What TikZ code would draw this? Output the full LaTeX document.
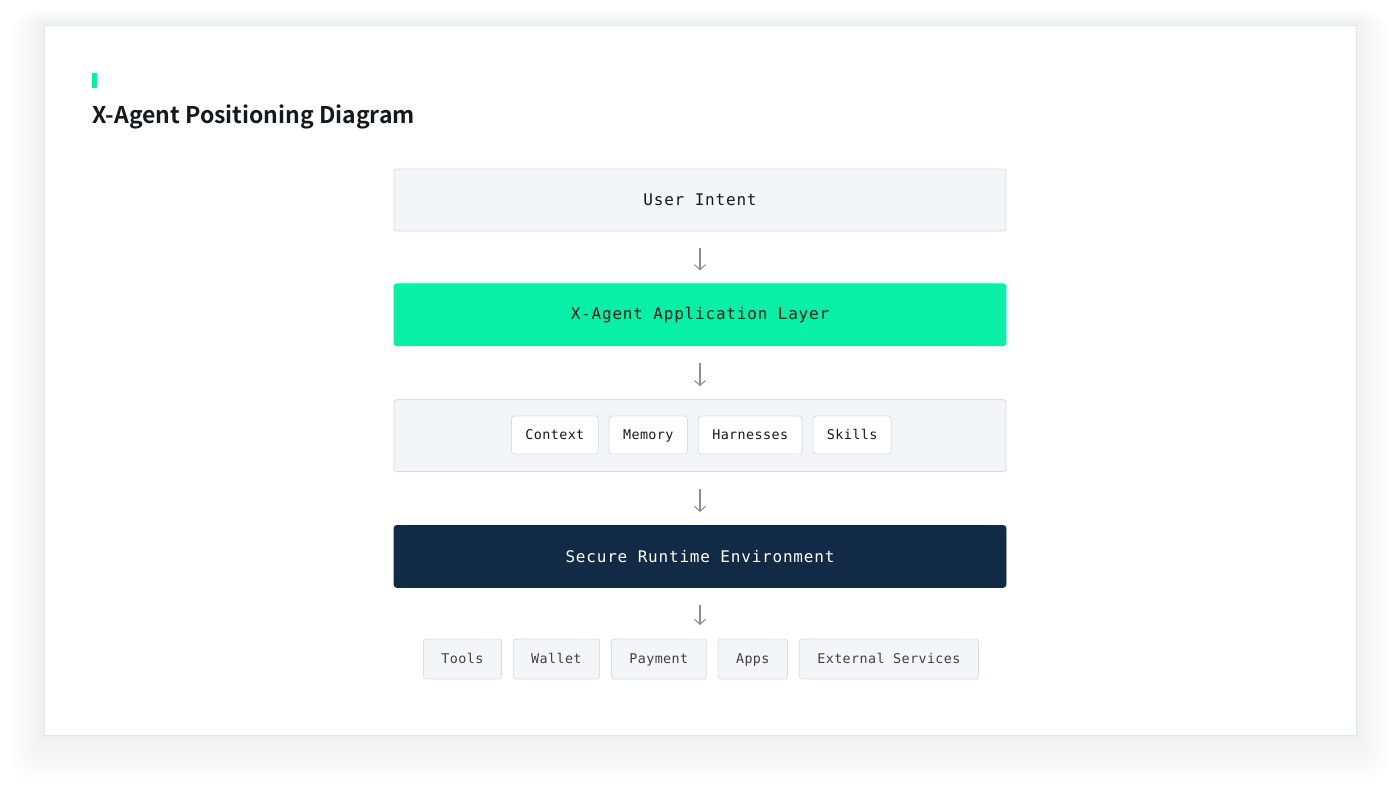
\documentclass[tikz,border=0pt]{standalone}
\usepackage{fontspec}
\usetikzlibrary{positioning,arrows.meta}
\newfontfamily\headfont{Noto Sans CJK SC}[BoldFont={* Bold}]
\newfontfamily\codefont{DejaVu Sans Mono}[LetterSpace=5]
\newfontfamily\chipfont{DejaVu Sans Mono}[LetterSpace=3]
\definecolor{panelgray}{HTML}{F3F6F9}
\definecolor{panelline}{HTML}{D9DEE3}
\definecolor{xgreen}{HTML}{08F0A6}
\definecolor{navy}{HTML}{112A46}
\definecolor{arrowgray}{HTML}{8B9096}
\definecolor{inkdark}{HTML}{15191E}
\definecolor{cardline}{HTML}{E1E6E8}

\begin{document}
\begin{tikzpicture}[x=1pt,y=-1pt,node distance=52pt,
    layer/.style={draw=panelline,fill=panelgray,rounded corners=3pt,line width=0.8pt,
      minimum width=612pt,minimum height=62pt,font=\codefont\fontsize{16}{18}\selectfont,text=inkdark},
    chip/.style={draw=panelline,fill=white,rounded corners=3pt,line width=0.8pt,
      minimum height=38pt,inner xsep=14pt,text height=11pt,text depth=1.5pt,
      font=\chipfont\fontsize{13.4}{15}\selectfont,text=inkdark},
    target/.style={draw=panelline,fill=panelgray,rounded corners=3pt,line width=0.8pt,
      minimum height=40pt,inner xsep=18pt,text height=11pt,text depth=1.5pt,
      font=\chipfont\fontsize{13.4}{15}\selectfont,text=black!75},
    flow/.style={-{Straight Barb[length=5pt,width=11pt]},arrowgray,line width=1.1pt,
      shorten <=17pt,shorten >=13pt}]
	\useasboundingbox (0,0) rectangle (1400,798);
	% card with soft shadow
	\foreach \i in {1,...,14}
	  \fill[black,opacity=0.004,rounded corners=2*\i pt] (44-2.4*\i,25-1.2*\i) rectangle (1356+2.4*\i,735+3.6*\i);
	\fill[white,draw=cardline,line width=0.8pt] (44,25) rectangle (1356,735);
	\fill[xgreen] (92,73) rectangle (96.5,88);
	\node[anchor=base west,inner sep=0pt,font=\headfont\bfseries\fontsize{23}{26}\selectfont,text=inkdark]
	  (title) at (92,123) {X-Agent Positioning Diagram};
	% stack
	\node[layer] (intent) at (700,200) {User Intent};
	\node[layer,fill=xgreen,draw=xgreen] (app) [below=of intent] {X-Agent Application Layer};
	\node[layer,minimum height=72pt] (core) [below=53pt of app] {};
	\node[layer,fill=navy,draw=navy,text=white] (runtime) [below=53pt of core] {Secure Runtime Environment};
	% core components
	\node[chip,anchor=west] (ctx) at (511,435) {Context};
	\node[chip] (mem) [right=10pt of ctx] {Memory};
	\node[chip] (harn) [right=10pt of mem] {Harnesses};
	\node[chip] (skill) [right=10pt of harn] {Skills};
	% targets
	\node[target,anchor=west] (tools) at (423,659) {Tools};
	\node[target] (wallet) [right=11pt of tools] {Wallet};
	\node[target] (pay) [right=11pt of wallet] {Payment};
	\node[target] (apps) [right=11pt of pay] {Apps};
	\node[target] (ext) [right=11pt of apps] {External Services};
	\coordinate (row) at (700,639);
	\path[flow]
	  (intent) edge (app)
	  (app) edge (core)
	  (core) edge (runtime);
	\draw[flow,shorten >=14pt] (runtime.south) -- (row);
\end{tikzpicture}
\end{document}
